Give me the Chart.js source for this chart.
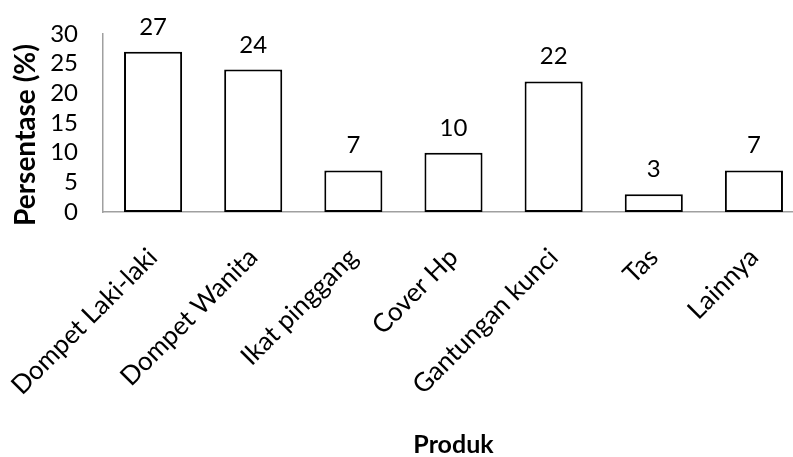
<!DOCTYPE html>
<html>
<head>
<meta charset="utf-8">
<script src="https://cdn.jsdelivr.net/npm/chart.js@4/dist/chart.umd.min.js"></script>
<style>
  html, body { margin: 0; padding: 0; background: #fff; overflow: hidden; }
  #wrap { position: relative; width: 804px; height: 457px; }
</style>
</head>
<body>
<div id="wrap"><canvas id="c"></canvas></div>
<script>
// Product categories and their share (%)
const categories = ['Dompet Laki-laki', 'Dompet Wanita', 'Ikat pinggang', 'Cover Hp', 'Gantungan kunci', 'Tas', 'Lainnya'];
const percentages = [27, 24, 7, 10, 22, 3, 7];
const yTicks = [0, 5, 10, 15, 20, 25, 30];
const yTitle = 'Persentase (%)';
const xTitle = 'Produk';

const FONT = 'Lato, "Open Sans", sans-serif';
const AXIS_GRAY = '#a0a0a0';

// Writes each bar's value centred above it
const valueLabels = {
  id: 'valueLabels',
  afterDatasetsDraw(chart) {
    const ctx = chart.ctx;
    const meta = chart.getDatasetMeta(0);
    ctx.save();
    ctx.font = '24px ' + FONT;
    ctx.fillStyle = '#000';
    ctx.textAlign = 'center';
    ctx.textBaseline = 'alphabetic';
    meta.data.forEach((bar, i) => {
      ctx.fillText(String(chart.data.datasets[0].data[i]), bar.x, bar.y - 17);
    });
    ctx.restore();
  }
};

// Vertical axis title, sitting a little below the middle of the plot
const yAxisTitle = {
  id: 'yAxisTitle',
  afterDraw(chart) {
    const ctx = chart.ctx;
    const area = chart.chartArea;
    ctx.save();
    ctx.translate(26, (area.top + area.bottom) / 2 + 12);
    ctx.rotate(-Math.PI / 2);
    ctx.font = 'bold 28px ' + FONT;
    ctx.fillStyle = '#000';
    ctx.textAlign = 'center';
    ctx.textBaseline = 'middle';
    ctx.fillText(yTitle, 0, 0);
    ctx.restore();
  }
};

new Chart(document.getElementById('c'), {
  type: 'bar',
  data: {
    labels: categories,
    datasets: [{
      data: percentages,
      backgroundColor: '#ffffff',
      borderColor: '#000000',
      borderWidth: 2,
      borderSkipped: false,
      barPercentage: 0.58,
      categoryPercentage: 1.0
    }]
  },
  options: {
    responsive: true,
    maintainAspectRatio: false,
    animation: false,
    layout: { padding: { top: 34, right: 0, left: 0, bottom: 0 } },
    plugins: { legend: { display: false }, tooltip: { enabled: false } },
    scales: {
      x: {
        grid: { display: false, drawTicks: false },
        border: { display: true, color: AXIS_GRAY, width: 1.5 },
        ticks: {
          color: '#000',
          font: { family: FONT, size: 26 },
          minRotation: 45,
          maxRotation: 45,
          autoSkip: false,
          padding: 30
        },
        title: {
          display: true,
          text: xTitle,
          color: '#000',
          font: { family: FONT, size: 25, weight: 'bold', lineHeight: 1.0 },
          padding: { top: 0, bottom: 0 }
        },
        afterFit(scale) {
          scale.height = 245;
          // rotated labels may hang past the plot edges; keep the plot where it is
          scale.paddingLeft = 0;
          scale.paddingRight = 0;
        }
      },
      y: {
        min: 0,
        max: 30,
        afterBuildTicks(scale) { scale.ticks = yTicks.map(v => ({ value: v })); },
        grid: { display: false, drawTicks: false },
        border: { display: true, color: AXIS_GRAY, width: 1.5 },
        ticks: {
          color: '#000',
          font: { family: FONT, size: 24 },
          autoSkip: false,
          padding: 25
        },
        afterFit(scale) {
          scale.width = 103;
          scale.paddingTop = 0;
          scale.paddingBottom = 0;
        }
      }
    }
  },
  plugins: [valueLabels, yAxisTitle]
});
</script>
</body>
</html>
